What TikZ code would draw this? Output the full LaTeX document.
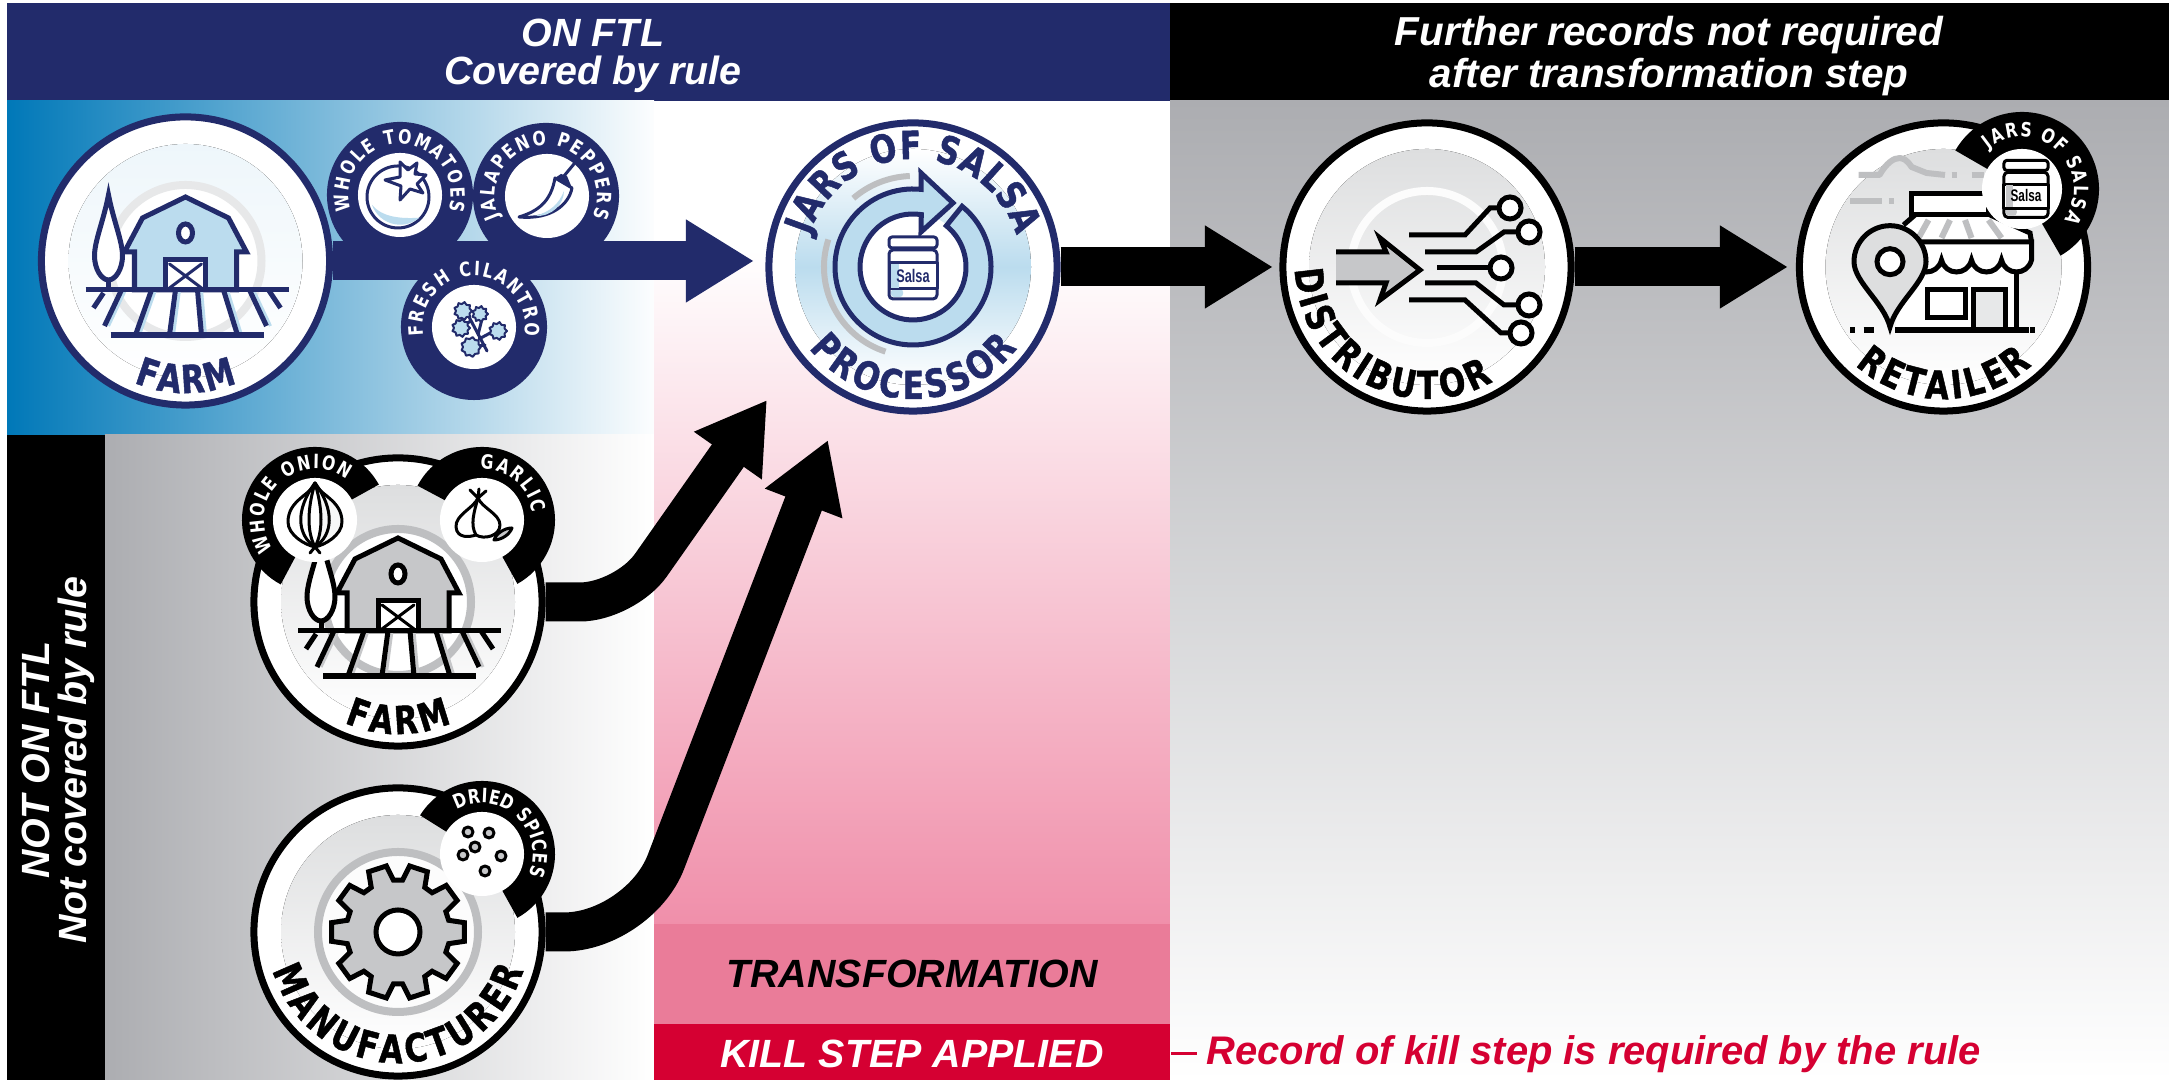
\documentclass[tikz,border=0pt]{standalone}
\usepackage{fontspec}
\setmainfont{Liberation Sans}
\newfontfamily\ringfont[FakeStretch=.8]{DejaVu Sans}
\newfontfamily\ringheavy[FakeStretch=.8,BoldFeatures={FakeBold=1.2}]{DejaVu Sans}
\usetikzlibrary{arrows.meta,decorations.text}

\definecolor{navy}{HTML}{222B6B}
\definecolor{crimson}{HTML}{D50032}
\definecolor{pinkband}{HTML}{EA7C99}
\definecolor{pinkend}{HTML}{F08FAA}
\definecolor{bluefarm}{HTML}{0078B8}
\definecolor{paleblue}{HTML}{BBDCEE}
\definecolor{greystart}{HTML}{ACADB1}
\definecolor{midgrey}{HTML}{C6C7C9}
\definecolor{ringgrey}{HTML}{BEBFC1}
\definecolor{halogrey}{HTML}{DDDEDF}
\colorlet{ink}{black}
\colorlet{tint}{midgrey}

\newcommand{\ringbig}{\ringheavy\bfseries\fontsize{11}{12}\selectfont}
\newcommand{\ringsmall}{\ringfont\bfseries\fontsize{5.6}{6}\selectfont}
\newcommand{\ringtext}[7]{\path[decorate,decoration={text along path,text color=#1,text align=fit to path,text={|#2|#7}}] (#3.center) ++(#5:#4) arc[start angle=#5,end angle=#6,radius=#4];}

\tikzset{
  badge/.style={circle,draw=#1,fill=white,line width=.07cm,minimum size=2.88cm,inner sep=0pt},
  rimdisc/.style={circle,fill=#1,minimum size=1.46cm,inner sep=0pt},
  holedisc/.style={circle,fill=white,minimum size=.84cm,inner sep=0pt},
  icon/.style={draw=ink,line width=.05cm,line join=miter},
  thinicon/.style={draw=ink,line width=.03cm,line join=round,line cap=round},
  block/.style={line width=.39cm,-{Triangle[length=.68cm,width=.78cm]}},
  bartext/.style={align=center,text=white,font=\bfseries\itshape\fontsize{11.2}{10.6}\selectfont},
  jar/.pic={
    \draw[thinicon,fill=white,rounded corners=.04cm] (-24,17) rectangle (24,-32);
    \fill[tint,rounded corners=.03cm] (-22,-22) rectangle (-10,-30);
    \draw[thinicon,fill=white,rounded corners=.03cm] (-24,30) rectangle (24,19);
    \draw[thinicon,fill=white] (-24,4) rectangle (24,-22);
    \fill[tint] (-22,3) rectangle (-14,-21);
    \node[text=ink,xscale=.7,transform shape,font=\bfseries\fontsize{5.2}{6}\selectfont,inner sep=0pt] (-label) at (0,-8.5) {Salsa};
  },
  barnfield/.pic={
    \draw[icon,fill=white] (-77,66) .. controls (-72,40) and (-63,20) .. (-63,5) .. controls (-63,-8) and (-70,-19) .. (-77,-19) .. controls (-84,-19) and (-91,-8) .. (-91,5) .. controls (-91,20) and (-82,40) .. cycle;
    \draw[icon] (-77,-19) -- (-77,-29);
    \draw[icon,fill=tint] (-51,-29) -- (-51,9) -- (-61,9) -- (-43,43) -- (0,64) -- (43,43) -- (61,9) -- (51,9) -- (51,-29) -- cycle;
    \draw[icon,fill=white] (0,28) ellipse (7 and 9);
    \draw[icon,fill=white] (-20,-29) rectangle (20,1);
    \draw[thinicon] (-16,-3) -- (16,-27) (16,-3) -- (-16,-27);
    \foreach \a/\b/\c/\d in {-64/-29/-81/-65,-34/-29/-50/-74,-10/-29/-16/-74,12/-29/16/-74,38/-29/52/-74,64/-29/81/-65}
      \draw[tint,line width=.03cm] (\a+4,\b) -- (\c+4,\d);
    \draw[icon] (-100,-29) -- (103,-29);
    \draw[icon,line width=.06cm] (-75,-74) -- (78,-74);
    \foreach \a/\b/\c/\d in {-82/-32/-92/-47,-64/-29/-81/-65,-34/-29/-50/-74,-10/-29/-16/-74,12/-29/16/-74,38/-29/52/-74,64/-29/81/-65,83/-29/95/-47}
      \draw[icon] (\a,\b) -- (\c,\d);
  }
}

\begin{document}
\begin{tikzpicture}[x=.01cm,y=.01cm]
  \useasboundingbox (0,0) rectangle (2169,1080);

  % backgrounds
  \fill[navy] (7,979) rectangle (1170,1077);
  \fill[black] (1170,979) rectangle (2169,1077);
  \fill[left color=bluefarm,right color=white!96!paleblue] (7,645) rectangle (654,979);
  \fill[black] (7,0) rectangle (105,645);
  \fill[left color=greystart,right color=white] (105,0) rectangle (654,645);
  \fill[top color=white,bottom color=pinkend] (654,155) rectangle (1170,830);
  \fill[top color=greystart,bottom color=white] (1170,0) rectangle (2169,979);

  % bars and labels
  \node[bartext] (ontitle) at (593,1024) {ON FTL\\Covered by rule};
  \node[bartext,font=\bfseries\itshape\fontsize{11.5}{10.6}\selectfont] (furthertitle) at (1669,1024) {Further records not required\\after transformation step};
  \node[bartext,rotate=90] (nottitle) at (58,320) {NOT ON FTL\\Not covered by rule};
  \node[fill=pinkband,minimum width=5.16cm,minimum height=.99cm,inner sep=0pt,font=\bfseries\itshape\fontsize{11.2}{12}\selectfont] (transform) at (912,106) {TRANSFORMATION};
  \node[fill=crimson,text=white,minimum width=5.16cm,minimum height=.6cm,inner sep=0pt,font=\bfseries\itshape\fontsize{11.2}{12}\selectfont] (killstep) at (912,26) {KILL STEP APPLIED};
  \node[text=crimson,anchor=west,inner sep=.09cm,font=\bfseries\itshape\fontsize{11.35}{12}\selectfont] (recordnote) at (1197,26) {Record of kill step is required by the rule};
  \draw[crimson,line width=.03cm] (killstep.east) -- (recordnote.west);

  % farm on the list
  \node[rimdisc=navy] (tomato) at (400,885) {};
  \node[rimdisc=navy] (jalapeno) at (546,884) {};
  \node[badge=navy] (farmA) at (185.5,819) {};
  \coordinate (farmAtip) at (754,819);
  \draw[block,navy] (farmA.east) -- (farmAtip);
  \node[rimdisc=navy] (cilantro) at (474,753) {};
  \node[holedisc] (tomatoHole) at (400,885) {};
  \node[holedisc] (jalapenoHole) at (547,884) {};
  \node[holedisc] (cilantroHole) at (474,753) {};
  \ringtext{white}{\ringsmall}{tomato}{51}{198}{-18}{WHOLE TOMATOES}
  \ringtext{white}{\ringsmall}{jalapeno}{51}{205}{-24}{JALAPENO PEPPERS}
  \ringtext{white}{\ringsmall}{cilantro}{51}{190}{-10}{FRESH CILANTRO}
  \colorlet{ink}{navy}
  \colorlet{tint}{paleblue}
  \begin{scope}[shift={(tomatoHole.center)}]
    \draw[thinicon,fill=white] (-2,-2) circle (31);
    \fill[tint] (-28,-10) arc[start angle=200,end angle=310,radius=30] .. controls (0,-24) and (-18,-22) .. cycle;
    \draw[thinicon,fill=white] (0,33) -- (8,25) -- (17,32) -- (15,21) -- (26,20) -- (17,11) -- (23,2) -- (10,6) -- (0,-5) -- (1,9) -- (-15,15) -- (0,18) -- cycle;
  \end{scope}
  \begin{scope}[shift={(jalapenoHole.center)}]
    \draw[thinicon,fill=white] (-28,-21) .. controls (-8,-15) and (4,-5) .. (8,18) -- (25,8) .. controls (22,-8) and (5,-24) .. cycle;
    \fill[tint] (-12,-20) .. controls (3,-16) and (12,-8) .. (17,5) .. controls (17,-8) and (5,-21) .. cycle;
    \fill[ink] (8,18) -- (14,22) -- (20,20) -- (25,8) -- (16,12) -- cycle;
    \draw[thinicon] (17,20) -- (27,32);
  \end{scope}
  \begin{scope}[shift={(cilantroHole.center)}]
    \draw[thinicon] (13,-24) -- (-6,12) (4,-8) -- (8,8) (5,-12) -- (20,-4) (11,-18) -- (-2,-20) (-3,6) -- (-14,0);
    \foreach \x/\y/\rad in {-11/16/9,6/13/8,-13/-1/9,24/-4/9,-3/-20/10}
      \draw[thinicon,line width=.02cm,fill=tint,shift={(\x,\y)}] (0:\rad) \foreach \a in {20,40,...,340} {-- (\a:{\rad-2*mod(\a/20,2)})} -- cycle;
  \end{scope}
  \begin{scope}[shift={(farmA.center)}]
    \fill[top color=paleblue!25,bottom color=white] (0,0) circle (117);
    \draw[line width=.08cm,halogrey!70,fill=white] (0,0) circle (76);
    \pic {barnfield};
  \end{scope}
  \ringtext{navy}{\ringbig}{farmA}{132}{247}{293}{FARM}

  % processor
  \node[badge=navy] (processor) at (913,813) {};
  \begin{scope}[shift={(processor.center)}]
    \fill[top color=white,bottom color=white,middle color=paleblue] (0,0) circle (118);
    \draw[ringgrey,line width=.06cm] (131:91) arc[start angle=131,end angle=92,radius=91];
    \draw[ringgrey,line width=.06cm] (162:89) arc[start angle=162,end angle=252,radius=89];
    \fill[white] (0,0) circle (54);
    \draw[icon,fill=tint] (51:78) arc[start angle=51,end angle=-276,radius=78] -- (8,94) -- (40,64) -- (8,35) -- (81:53) arc[start angle=-279,end angle=51,radius=53] -- cycle;
    \pic {jar};
  \end{scope}
  \ringtext{navy}{\ringbig}{processor}{108}{163}{17}{JARS OF SALSA}
  \ringtext{navy}{\ringbig}{processor}{132}{218}{322}{PROCESSOR}

  % after the kill step
  \colorlet{ink}{black}
  \colorlet{tint}{midgrey}
  \node[badge=black] (distributor) at (1427,813) {};
  \coordinate (distributortip) at (1273,813);
  \draw[block] (processor.east) -- (distributortip);
  \begin{scope}[shift={(distributor.center)}]
    \fill[top color=halogrey,bottom color=white] (0,0) circle (118);
    \draw[line width=.08cm,white!90!halogrey] (0,0) circle (76);
    \fill[tint] (-91,15) -- (-41,15) -- (-47,29) -- (-7,-3) -- (-47,-33) -- (-41,-16) -- (-91,-16) -- cycle;
    \draw[icon] (-91,15) -- (-41,15) -- (-47,29) -- (-7,-3) -- (-47,-33) -- (-41,-16) -- (-91,-16);
    \draw[icon] (-18,32) -- (38,32) -- (63,59) -- (72,59);
    \draw[icon] (-2,15) -- (49,15) -- (77,35) -- (91,35);
    \draw[icon] (10,-1) -- (63,-1);
    \draw[icon] (-2,-16) -- (49,-16) -- (77,-38) -- (91,-38);
    \draw[icon] (-18,-33) -- (38,-33) -- (74,-66) -- (83,-66);
    \foreach \x/\y in {83/59,102/35,74/-1,102/-38,94/-66}
      \draw[icon,fill=white] (\x,\y) circle (11);
  \end{scope}
  \ringtext{black}{\ringbig}{distributor}{132}{181}{300}{DISTRIBUTOR}

  \node[badge=black] (retailer) at (1943.5,813) {};
  \coordinate (retailertip) at (1788,813);
  \draw[block] (distributor.east) -- (retailertip);
  \begin{scope}[shift={(retailer.center)}]
    \fill[top color=halogrey,bottom color=white] (0,0) circle (118);
    \draw[ringgrey,line width=.06cm,line join=round] (-85,92) -- (-64,92) .. controls (-57,104) and (-50,109) .. (-43.5,109) .. controls (-37,109) and (-32,100) .. (-32,100) -- (-17,94) -- (1.5,92);
    \draw[ringgrey,line width=.06cm] (8,92) -- (13,92) (28,92) -- (40,92) (-93.5,66) -- (-62,66) (-55,66) -- (-50,66);
    \fill[white] (-40,42) -- (-28.5,52) -- (46.5,52) -- (86.5,34) -- (88,25) -- (88,7) -- (73,0) -- (73,-63) -- (-48,-63) -- cycle;
    \draw[ringgrey,line width=.06cm] (-15,47) -- (-25,29) (6.5,47) -- (-2,29) (21.5,47) -- (28,29) (45,47) -- (58,29);
    \draw[icon,fill=white] (-32,73.5) rectangle (45,52);
    \draw[icon] (-40,42) -- (-28.5,52) (46.5,52) -- (86.5,34) -- (88,25);
    \draw[icon] (73,-5) -- (73,-63);
    \draw[icon,fill=white] (-32,25) -- (88,25) -- (88,7) \foreach \s in {88,58,28,-2} { .. controls ({\s-4},-9) and ({\s-26},-9) .. ({\s-30},7)} -- cycle;
    \draw[icon,fill=white] (-16,-23) rectangle (21.5,-51);
    \draw[icon,fill=halogrey!70] (30,-63) rectangle (61.5,-23);
    \draw[icon,line width=.06cm] (-48.5,-63) -- (85,-63) (86.5,-63) -- (91.5,-63) (-80,-63) -- (-70,-63) (-93.5,-63) -- (-88.5,-63);
    \draw[icon,fill=halogrey] (-53.5,-60) .. controls (-60,-35) and (-89.5,-15) .. (-89.5,5.3) arc[start angle=180,end angle=0,radius=36] .. controls (-17.5,-15) and (-47,-35) .. cycle;
    \draw[icon,fill=white] (-53.5,5.3) circle (13);
  \end{scope}
  \ringtext{black}{\ringbig}{retailer}{132}{228}{312}{RETAILER}
  \coordinate (jarbadge) at (2022,891);
  \coordinate (jarspot) at (2026,892);
  \fill[black] (jarbadge) -- ++(150:77) arc[start angle=150,end angle=-60,radius=77] -- cycle;
  \node[holedisc,minimum size=.8cm] (jarHole) at (jarbadge) {};
  \pic[scale=.92] (retailjar) at (jarspot) {jar};
  \ringtext{white}{\ringsmall}{jarHole}{52}{130}{-36}{JARS OF SALSA}

  % farm off the list
  \node[badge=black] (farmB) at (398,478) {};
  \coordinate (farmBelbow) at (625,478);
  \coordinate (farmBtip) at (767,680);
  \draw[block,rounded corners=.45cm] (farmB.east) -- (farmBelbow) -- (farmBtip);
  \begin{scope}[shift={(farmB.center)}]
    \fill[top color=halogrey,bottom color=white] (0,0) circle (117);
    \draw[line width=.08cm,ringgrey,fill=white] (0,0) circle (73);
    \pic {barnfield};
  \end{scope}
  \ringtext{black}{\ringbig}{farmB}{132}{246}{294}{FARM}
  \coordinate (onion) at (315,560);
  \coordinate (garlic) at (482,560);
  \fill[black] (onion) -- ++(29:73) arc[start angle=29,end angle=242,radius=73] -- cycle;
  \fill[black] (garlic) -- ++(152:73) arc[start angle=152,end angle=-61,radius=73] -- cycle;
  \node[holedisc] (onionHole) at (onion) {};
  \node[holedisc] (garlicHole) at (garlic) {};
  \ringtext{white}{\ringsmall}{onionHole}{51}{215}{52}{WHOLE ONION}
  \ringtext{white}{\ringsmall}{garlicHole}{51}{92}{8}{GARLIC}
  \begin{scope}[shift={(onionHole.center)}]
    \fill[white!85!midgrey] (5,32) .. controls (10,20) and (27,18) .. (27,-2) .. controls (27,-15) and (10,-25) .. (5,-26) -- cycle;
    \draw[thinicon] (0,37) .. controls (4,25) and (27,20) .. (27,-2) .. controls (27,-15) and (10,-25) .. (0,-27) .. controls (-10,-25) and (-27,-15) .. (-27,-2) .. controls (-27,20) and (-4,25) .. cycle;
    \draw[thinicon] (0,37) .. controls (-20,10) and (-18,-15) .. (0,-27) .. controls (18,-15) and (20,10) .. (0,37);
    \draw[thinicon] (0,37) .. controls (-8,10) and (-8,-12) .. (0,-27) .. controls (8,-12) and (8,10) .. (0,37);
    \draw[thinicon] (-5,-33) -- (0,-27) -- (5,-33);
  \end{scope}
  \begin{scope}[shift={(garlicHole.center)}]
    \draw[thinicon,fill=white] (-4,22) .. controls (-8,12) and (-27,5) .. (-26,-7) .. controls (-25,-19) and (-12,-17) .. (-6,-15) .. controls (2,-20) and (18,-16) .. (18,-5) .. controls (18,6) and (0,12) .. cycle;
    \draw[thinicon] (-4,22) .. controls (-8,8) and (-12,-5) .. (-6,-15);
    \draw[thinicon] (-4,22) -- (-12,30) (-4,22) -- (-3,31) (-4,22) -- (4,29);
    \draw[thinicon,fill=midgrey] (30,-8) .. controls (28,-14) and (20,-20) .. (12,-20) .. controls (14,-14) and (22,-8) .. cycle;
  \end{scope}

  % manufacturer
  \node[badge=black] (manufacturer) at (398,148) {};
  \coordinate (manufacturerelbow) at (639,148);
  \coordinate (manufacturertip) at (828,640);
  \draw[block,rounded corners=.75cm] (manufacturer.east) -- (manufacturerelbow) -- (manufacturertip);
  \begin{scope}[shift={(manufacturer.center)}]
    \fill[top color=halogrey,bottom color=white] (0,0) circle (117);
    \draw[line width=.08cm,ringgrey,fill=white!90!halogrey] (0,0) circle (80);
    \draw[icon,fill=tint] (-13:52) \foreach \a in {0,36,...,324} {-- ({\a-13}:52) -- ({\a-8}:67) -- ({\a+8}:67) -- ({\a+13}:52)} -- cycle;
    \draw[icon,fill=white] (0,0) circle (22);
  \end{scope}
  \ringtext{black}{\ringbig}{manufacturer}{131}{197}{343}{MANUFACTURER}
  \coordinate (spices) at (482,226);
  \fill[black] (spices) -- ++(148:73) arc[start angle=148,end angle=-61,radius=73] -- cycle;
  \node[holedisc] (spicesHole) at (spices) {};
  \ringtext{white}{\ringsmall}{spicesHole}{51}{120}{-24}{DRIED SPICES}
  \begin{scope}[shift={(spicesHole.center)}]
    \foreach \x/\y in {-14/22,7/21,-7/7,-19/-1,19/-2,3/-17}
      \draw[thinicon,fill=midgrey] (\x,\y) circle (5);
  \end{scope}
\end{tikzpicture}
\end{document}
